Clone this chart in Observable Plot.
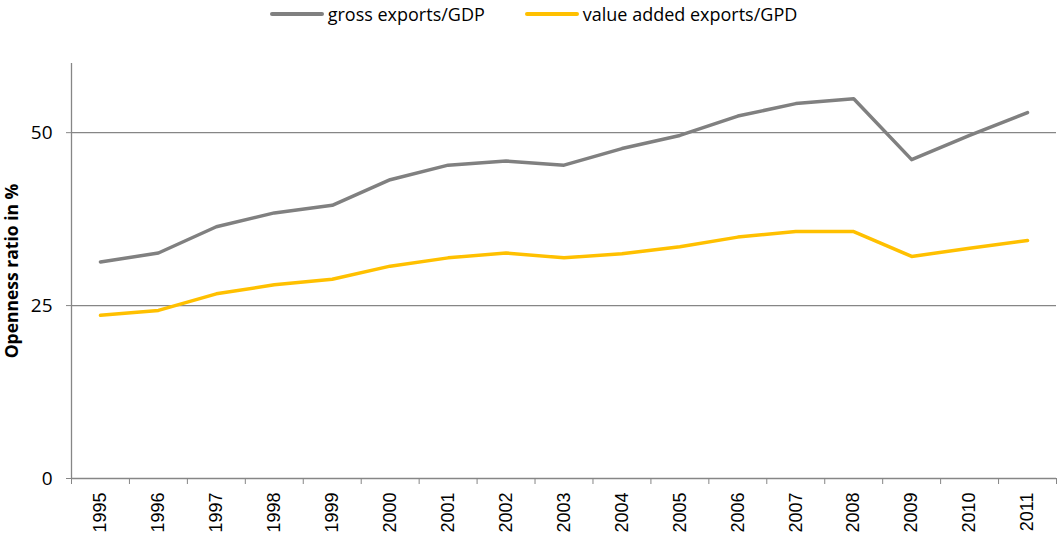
<!DOCTYPE html>
<html><head><meta charset="utf-8">
<script src="https://cdn.jsdelivr.net/npm/d3@7"></script>
<script src="https://cdn.jsdelivr.net/npm/@observablehq/plot@0.6"></script>
<style>
body{margin:0;background:#fff;}
#legend{height:28px;display:flex;justify-content:center;align-items:center;gap:40px;font-family:"Open Sans";font-size:18px;color:#000;padding-left:10px;box-sizing:border-box;}
.item{display:flex;align-items:center;}
.sw{width:54px;height:4px;margin-right:4px;border-radius:2px;}
</style></head><body>
<div id="legend"></div><div id="chart"></div>
<script>
const years = [1995,1996,1997,1998,1999,2000,2001,2002,2003,2004,2005,2006,2007,2008,2009,2010,2011];
const grossExports = [31.3,32.6,36.4,38.4,39.5,43.2,45.3,45.9,45.3,47.7,49.6,52.4,54.2,54.9,46.1,49.6,52.9];
const valueAddedExports = [23.6,24.3,26.7,28.0,28.8,30.7,31.9,32.6,31.9,32.5,33.5,34.9,35.7,35.7,32.1,33.3,34.4];
const seriesNames = ["gross exports/GDP","value added exports/GPD"];
const seriesColors = ["#808080","#FFC000"];
const yTicks = [0,25,50];
const yLabel = "Openness ratio in %";

const data = [];
years.forEach((yr,i)=>{
  data.push({year:yr, value:grossExports[i], series:seriesNames[0]});
});
years.forEach((yr,i)=>{
  data.push({year:yr, value:valueAddedExports[i], series:seriesNames[1]});
});
const boundaries = years.map(y=>y-0.5).concat([years[years.length-1]+0.5]);

const legend = document.getElementById("legend");
seriesNames.forEach((n,i)=>{
  const it = document.createElement("div"); it.className="item";
  const sw = document.createElement("span"); sw.className="sw"; sw.style.background=seriesColors[i];
  const tx = document.createElement("span"); tx.textContent=n;
  it.appendChild(sw); it.appendChild(tx); legend.appendChild(it);
});

const gridColor = "#868686";
const chart = Plot.plot({
  width:1057, height:510, marginTop:35, marginBottom:60, marginLeft:71, marginRight:1,
  x:{type:"linear", domain:[boundaries[0], boundaries[boundaries.length-1]]},
  y:{domain:[0,60]},
  color:{domain:seriesNames, range:seriesColors},
  style:{fontFamily:"Open Sans", fontSize:"16px", color:"#000", background:"#fff"},
  marks:[
    Plot.ruleY(yTicks.filter(d=>d>0), {stroke:gridColor, strokeWidth:1.3}),
    Plot.ruleX([boundaries[0]], {stroke:gridColor, strokeWidth:1.3}),
    Plot.ruleY([0], {stroke:gridColor, strokeWidth:1.3}),
    Plot.axisY({ticks:yTicks, tickSize:5, tickFormat:()=>"", label:null, stroke:gridColor}),
    Plot.text(yTicks, {x:boundaries[0], y:d=>d, text:d=>String(d), textAnchor:"end", dx:-19, fontSize:19, fill:"#000"}),
    Plot.axisX({ticks:boundaries, tickSize:6, tickFormat:()=>"", label:null, stroke:gridColor}),
    Plot.axisX({ticks:years, tickSize:0, tickRotate:-90, tickFormat:d=>String(d), label:null, fontFamily:"Liberation Sans", fontSize:18, tickPadding:14}),
    Plot.line(data, {x:"year", y:"value", stroke:"series", z:"series", strokeWidth:3.5}),
    Plot.text([yLabel], {frameAnchor:"left", rotate:-90, dx:-59, textAnchor:"middle", fontWeight:"bold", fontSize:17.5})
  ]
});
document.getElementById("chart").appendChild(chart);
</script>
</body></html>
